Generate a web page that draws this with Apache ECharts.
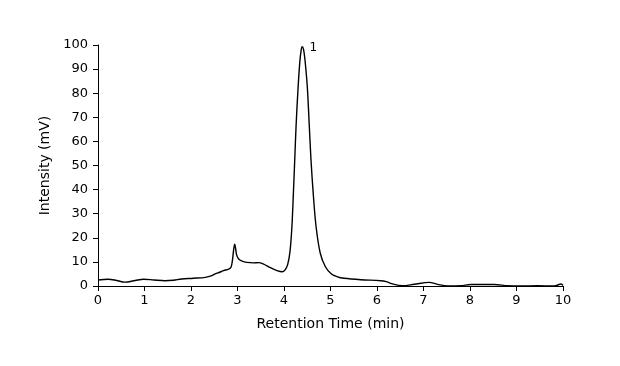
<!DOCTYPE html>
<html>
<head>
<meta charset="utf-8">
<script src="https://cdn.jsdelivr.net/npm/echarts@6/dist/echarts.min.js"></script>
<style>html,body{margin:0;padding:0;background:#fff}#c{width:620px;height:366px}</style>
</head>
<body>
<div id="c"></div>
<script>
const retentionTime = [0.00,0.22,0.40,0.58,0.80,0.98,1.20,1.44,1.62,1.80,2.05,2.31,2.45,2.52,2.63,2.70,2.81,2.86,2.89,2.92,2.94,2.96,2.98,3.02,3.10,3.20,3.35,3.45,3.55,3.71,3.85,3.96,4.02,4.08,4.13,4.17,4.20,4.23,4.26,4.30,4.34,4.37,4.39,4.42,4.45,4.50,4.54,4.58,4.63,4.69,4.78,4.89,5.02,5.15,5.29,5.65,6.08,6.20,6.29,6.55,6.80,7.12,7.30,7.52,7.80,8.02,8.52,8.81,9.09,9.45,9.81,9.96,10.00];
const intensity = [2.5,2.8,2.3,1.6,2.3,2.8,2.5,2.2,2.4,2.9,3.2,3.6,4.3,5.0,5.8,6.4,7.0,7.8,10.5,15.5,17.3,15.5,13.0,11.3,10.3,9.8,9.6,9.7,9.2,7.6,6.4,5.9,6.6,9.0,14.5,24.6,37.5,52.0,66.5,81.3,93.0,98.0,99.3,98.2,94.0,83.0,68.0,52.5,38.0,24.6,13.6,8.0,5.0,3.8,3.2,2.6,2.2,1.8,1.1,0.1,0.7,1.5,0.7,0.0,0.1,0.6,0.6,0.1,0.0,0.1,0.0,0.8,0.2];
const peakLabels = ['1'];
const peakLabelPos = [[4.63, 99]];
const xTicks = [0,1,2,3,4,5,6,7,8,9,10];
const yTicks = [0,10,20,30,40,50,60,70,80,90,100];

const FONT = 'DejaVu Sans';
const chart = echarts.init(document.getElementById('c'), null, {renderer:'canvas'});
chart.setOption({
  animation:false,
  backgroundColor:'#fff',
  grid:{left:98, right:57, top:45, bottom:80, containLabel:false},
  xAxis:{
    type:'value', min:xTicks[0], max:xTicks[xTicks.length-1], interval:1,
    name:'Retention Time (min)', nameLocation:'middle', nameGap:31,
    nameTextStyle:{fontFamily:FONT, fontSize:14, color:'#000'},
    axisLine:{lineStyle:{color:'#000', width:1}},
    axisTick:{show:true, length:5, lineStyle:{color:'#000'}},
    axisLabel:{fontFamily:FONT, fontSize:13, color:'#000', margin:8},
    splitLine:{show:false}
  },
  yAxis:{
    type:'value', min:yTicks[0], max:yTicks[yTicks.length-1], interval:10,
    name:'Intensity (mV)', nameLocation:'middle', nameGap:38, nameRotate:90,
    nameTextStyle:{fontFamily:FONT, fontSize:14, color:'#000'},
    axisLine:{show:true, lineStyle:{color:'#000', width:1}},
    axisTick:{show:true, length:5, lineStyle:{color:'#000'}},
    axisLabel:{fontFamily:FONT, fontSize:13, color:'#000', margin:10},
    splitLine:{show:false}
  },
  series:[{
    type:'line',
    data:retentionTime.map((t,i)=>[t,intensity[i]]),
    showSymbol:false,
    smooth:0.35,
    lineStyle:{color:'#000', width:1.4},
    markPoint:{
      symbol:'circle', symbolSize:0,
      label:{show:true, fontFamily:FONT, fontSize:12, color:'#000', position:'inside', formatter:p=>p.name},
      data:peakLabels.map((s,i)=>({name:s, coord:peakLabelPos[i]}))
    }
  }]
});
</script>
</body>
</html>
